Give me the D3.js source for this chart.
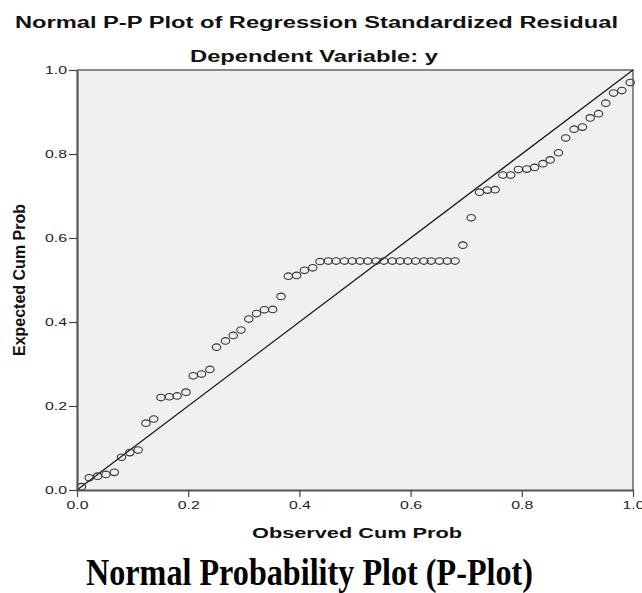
<!DOCTYPE html>
<html>
<head>
<meta charset="utf-8">
<script src="https://cdn.jsdelivr.net/npm/d3@7/dist/d3.min.js"></script>
<style>
  html, body { margin: 0; padding: 0; background: #ffffff; }
  svg { display: block; }
</style>
</head>
<body>
<svg id="chart" width="642" height="593"></svg>
<script>
// ---- Data ----
const titleText = "Normal P-P Plot of Regression Standardized Residual";
const subtitleText = "Dependent Variable: y";
const xAxisTitle = "Observed Cum Prob";
const yAxisTitle = "Expected Cum Prob";
const captionText = "Normal Probability Plot (P-Plot)";
const tickValues = [0, 0.2, 0.4, 0.6, 0.8, 1.0];
const tickLabels = ["0.0", "0.2", "0.4", "0.6", "0.8", "1.0"];

const observedCumProb = [
  0.008, 0.022, 0.037, 0.052, 0.067, 0.080, 0.095, 0.110, 0.124, 0.138,
  0.151, 0.166, 0.180, 0.196, 0.209, 0.224, 0.239, 0.251, 0.267, 0.281,
  0.295, 0.309, 0.323, 0.337, 0.352, 0.367, 0.380, 0.395, 0.409, 0.424,
  0.437, 0.452, 0.466, 0.481, 0.495, 0.509, 0.523, 0.538, 0.552, 0.567,
  0.581, 0.595, 0.609, 0.624, 0.637, 0.652, 0.666, 0.680, 0.694, 0.709,
  0.724, 0.738, 0.752, 0.766, 0.780, 0.794, 0.809, 0.823, 0.838, 0.851,
  0.866, 0.879, 0.894, 0.909, 0.923, 0.938, 0.951, 0.965, 0.980, 0.995
];
const expectedCumProb = [
  0.008, 0.029, 0.033, 0.037, 0.042, 0.078, 0.089, 0.095, 0.159, 0.169,
  0.220, 0.222, 0.224, 0.233, 0.272, 0.276, 0.287, 0.340, 0.355, 0.368,
  0.381, 0.407, 0.420, 0.429, 0.430, 0.461, 0.509, 0.511, 0.523, 0.529,
  0.544, 0.545, 0.545, 0.545, 0.545, 0.545, 0.545, 0.545, 0.545, 0.545,
  0.545, 0.545, 0.545, 0.545, 0.545, 0.545, 0.545, 0.545, 0.583, 0.648,
  0.709, 0.714, 0.715, 0.750, 0.750, 0.763, 0.764, 0.768, 0.777, 0.786,
  0.803, 0.838, 0.859, 0.864, 0.886, 0.896, 0.921, 0.945, 0.951, 0.970
];
const referenceLine = [[0, 0], [1, 1]];

// ---- Layout ----
const svg = d3.select("#chart");
const plot = { left: 77, top: 70, width: 556, height: 420 };

const x = d3.scaleLinear().domain([0, 1]).range([plot.left, plot.left + plot.width]);
const y = d3.scaleLinear().domain([0, 1]).range([plot.top + plot.height, plot.top]);

const sansFont = "'Liberation Sans', Arial, Helvetica, sans-serif";

// Plot background
svg.append("rect")
  .attr("x", x(0)).attr("y", y(1))
  .attr("width", x(1) - x(0)).attr("height", y(0) - y(1))
  .attr("fill", "#f0f0f0");

// Top and right frame
svg.append("path")
  .attr("d", `M${x(0)},${y(1)}H${x(1)}V${y(0)}`)
  .attr("fill", "none")
  .attr("stroke", "#8a8a8a")
  .attr("stroke-width", 2);

// Reference diagonal
svg.append("path")
  .datum(referenceLine)
  .attr("d", d3.line().x(d => x(d[0])).y(d => y(d[1])))
  .attr("stroke", "#1a1a1a")
  .attr("stroke-width", 1.3)
  .attr("fill", "none");

// Points (stretched circles, like the reference)
const pts = observedCumProb.map((v, i) => ({ o: v, e: expectedCumProb[i] }));
svg.append("g").selectAll("ellipse")
  .data(pts)
  .join("ellipse")
  .attr("cx", d => x(d.o))
  .attr("cy", d => y(d.e))
  .attr("rx", 4.2)
  .attr("ry", 3.3)
  .attr("fill", "none")
  .attr("stroke", "#333333")
  .attr("stroke-width", 1.1);

// Axes
const fmt = (d, i) => tickLabels[tickValues.indexOf(d)];
const yAxis = svg.append("g")
  .attr("transform", `translate(${x(0)},0)`)
  .call(d3.axisLeft(y).tickValues(tickValues).tickFormat(fmt).tickSize(8).tickSizeOuter(0).tickPadding(2));
const xAxis = svg.append("g")
  .attr("transform", `translate(0,${y(0)})`)
  .call(d3.axisBottom(x).tickValues(tickValues).tickFormat(fmt).tickSize(7).tickSizeOuter(0).tickPadding(4));

[xAxis, yAxis].forEach(g => {
  g.select(".domain").attr("stroke", "#555555").attr("stroke-width", 2.2);
  g.selectAll(".tick line").attr("stroke", "#444444").attr("stroke-width", 1.2);
  g.selectAll(".tick text")
    .attr("fill", "#222222")
    .style("font-family", sansFont)
    .style("font-size", "11px")
    .attr("textLength", 22)
    .attr("lengthAdjust", "spacingAndGlyphs");
});
yAxis.selectAll(".tick text").attr("dy", "0.35em");

// Titles
svg.append("text")
  .attr("x", 15).attr("y", 28)
  .attr("textLength", 603).attr("lengthAdjust", "spacingAndGlyphs")
  .style("font-family", sansFont).style("font-weight", "bold").style("font-size", "16px")
  .attr("fill", "#111")
  .text(titleText);

svg.append("text")
  .attr("x", 190).attr("y", 61.5)
  .attr("textLength", 248).attr("lengthAdjust", "spacingAndGlyphs")
  .style("font-family", sansFont).style("font-weight", "bold").style("font-size", "16px")
  .attr("fill", "#111")
  .text(subtitleText);

svg.append("text")
  .attr("x", 252).attr("y", 538)
  .attr("textLength", 210).attr("lengthAdjust", "spacingAndGlyphs")
  .style("font-family", sansFont).style("font-weight", "bold").style("font-size", "15px")
  .attr("fill", "#111")
  .text(xAxisTitle);

svg.append("text")
  .attr("transform", `translate(25,${(y(0) + y(1)) / 2}) rotate(-90)`)
  .attr("text-anchor", "middle")
  .style("font-family", sansFont).style("font-weight", "bold").style("font-size", "16px")
  .attr("fill", "#111")
  .text(yAxisTitle);

// Caption
svg.append("text")
  .attr("x", 86).attr("y", 585)
  .attr("textLength", 447).attr("lengthAdjust", "spacingAndGlyphs")
  .style("font-family", "'Liberation Serif', 'Times New Roman', serif")
  .style("font-weight", "bold").style("font-size", "37px")
  .attr("fill", "#000")
  .text(captionText);
</script>
</body>
</html>
